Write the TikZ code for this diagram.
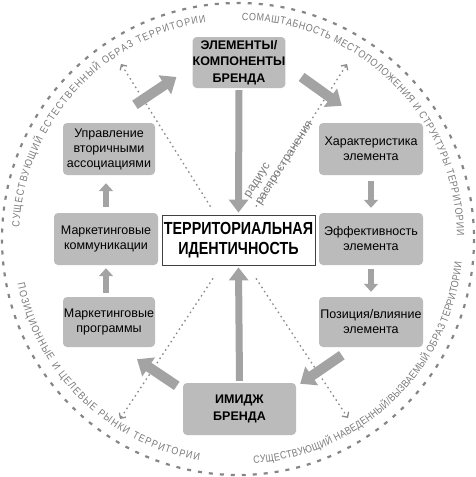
\documentclass[tikz,border=0pt]{standalone}
\usepackage{fontspec}
\setmainfont{Liberation Sans}
\newfontfamily\narrowfont[FakeStretch=0.82]{Liberation Sans}
\newfontfamily\arcfont[FakeStretch=0.85]{Liberation Sans}
\usetikzlibrary{arrows.meta,decorations.text,calc}
\definecolor{boxgray}{HTML}{BBBBBB}
\definecolor{arrgray}{HTML}{A3A3A3}
\definecolor{linegray}{HTML}{8A8A8A}
\definecolor{txtgray}{HTML}{7A7A7A}
\definecolor{circgray}{HTML}{858585}
\begin{document}
\begin{tikzpicture}[x=1pt,y=-1pt,
  box/.style={fill=boxgray, rounded corners=4pt, align=center, inner sep=0pt,
    font=\fontsize{12.5}{15}\selectfont},
  boldbox/.style={box, font=\fontsize{12.5}{16.5}\selectfont\bfseries},
  bigarrow/.style={draw=arrgray, line width=7pt, -{Triangle[width=19pt,length=13pt]}},
  diagarrow/.style={draw=arrgray, line width=10pt, -{Triangle[width=22pt,length=14pt]}},
  smallarrow/.style={draw=arrgray, line width=6pt, -{Triangle[width=14pt,length=8pt]}},
  dotline/.style={draw=linegray, line width=1.3pt, dash pattern=on 1.6pt off 3.4pt,
    -{Straight Barb[length=4pt,width=8pt]}},
  arctext/.style={decorate, decoration={text along path, text align=fit to path,
    text color=txtgray, text={|\arcfont\fontsize{10.5}{12}\selectfont|#1}}}
]
\useasboundingbox (0,0) rectangle (476,477);
\coordinate (c) at (238,239);
% dashed circle
\draw[circgray, line width=2.2pt, dash pattern=on 4pt off 7pt] (c) circle[radius=236];
% arc texts
\path[arctext={СУЩЕСТВУЮЩИЙ ЕСТЕСТВЕННЫЙ ОБРАЗ ТЕРРИТОРИИ}]
  ($(c)+(-177:219)$) arc[start angle=-177, end angle=-98.5, radius=219];
\path[arctext={СОМАШТАБНОСТЬ МЕСТОПОЛОЖЕНИЯ И СТРУКТУРЫ ТЕРРИТОРИИ}]
  ($(c)+(-89:219)$) arc[start angle=-89, end angle=-1, radius=219];
\path[arctext={ПОЗИЦИОННЫЕ И ЦЕЛЕВЫЕ РЫНКИ ТЕРРИТОРИИ}]
  ($(c)+(-191.5:225)$) arc[start angle=-191.5, end angle=-260, radius=225];
\path[arctext={СУЩЕСТВУЮЩИЙ НАВЕДЕННЫЙ/ВЫЗВАЕМЫЙ ОБРАЗ ТЕРРИТОРИИ}]
  ($(c)+(-274:225)$) arc[start angle=-274, end angle=-354, radius=225];

% nodes
\node[boldbox, minimum width=92, minimum height=51] (elem) at (239,62.5) {ЭЛЕМЕНТЫ/\\КОМПОНЕНТЫ\\БРЕНДА};
\node[box, minimum width=104, minimum height=52] (char) at (371,149) {Характеристика\\элемента};
\node[box, minimum width=104, minimum height=52] (eff) at (371,239) {Эффективность\\элемента};
\node[box, minimum width=104, minimum height=50] (pos) at (371,322) {Позиция/влияние\\элемента};
\node[boldbox, minimum width=113, minimum height=52] (img) at (239.5,409) {ИМИДЖ\\БРЕНДА};
\node[box, minimum width=92, minimum height=50] (prog) at (109,322) {Маркетинговые\\программы};
\node[box, minimum width=104, minimum height=52] (comm) at (106,239) {Маркетинговые\\коммуникации};
\node[box, minimum width=92, minimum height=52] (upr) at (109,149) {Управление\\вторичными\\ассоциациями};
\node[draw=black!75, line width=0.8pt, fill=white, minimum width=153, minimum height=50, inner sep=0pt,
  align=center, font=\narrowfont\bfseries\fontsize{17.5}{20}\selectfont] (terr) at (238.5,240)
  {ТЕРРИТОРИАЛЬНАЯ\\ИДЕНТИЧНОСТЬ};

% dotted radius lines
\coordinate (tlout) at (121,64);
\coordinate (trout) at (347,64);
\coordinate (blout) at (120,419);
\coordinate (brout) at (348,418);
\draw[dotline] ($(terr.north)+(-28,-8)$) -- (tlout);
\draw[dotline] ($(terr.north)+(17.5,-8)$) -- (trout);
\draw[dotline] ($(terr.south)+(-25.5,13)$) -- (blout);
\draw[dotline] ($(terr.south)+(17.5,13)$) -- (brout);
\node[rotate=57.5, align=left, inner sep=0pt, text=txtgray, font=\fontsize{12}{13.5}\selectfont]
  (radius) at (279.5,160) {радиус\\распространения};

% block arrows
\draw[bigarrow] ($(elem.south)+(0,2)$) -- ($(terr.north)+(0,-2)$);
\draw[bigarrow] ($(img.north)+(0,-2)$) -- ($(terr.south)+(0,2)$);
\draw[diagarrow] ($(elem.east)+(16,14.5)$) -- ($(char.north west)+(23,-17)$);
\draw[diagarrow] ($(pos.south west)+(23,8)$) -- ($(img.north east)+(4,1)$);
\draw[diagarrow] ($(img.north west)+(-6,3)$) -- ($(prog.south)+(28,12)$);
\draw[diagarrow] ($(upr.north)+(26,-18)$) -- ($(elem.west)+(-16,14.5)$);
\draw[smallarrow] ($(char.south)+(0,6)$) -- ($(eff.north)+(0,-5)$);
\draw[smallarrow] ($(eff.south)+(0,4)$) -- ($(pos.north)+(0,-5)$);
\draw[smallarrow] ($(comm.south |- prog.north)+(0,-4)$) -- ($(comm.south)+(0,3)$);
\draw[smallarrow] ($(comm.north)+(0,-6)$) -- ($(comm.north |- upr.south)+(0,8)$);
\end{tikzpicture}
\end{document}
